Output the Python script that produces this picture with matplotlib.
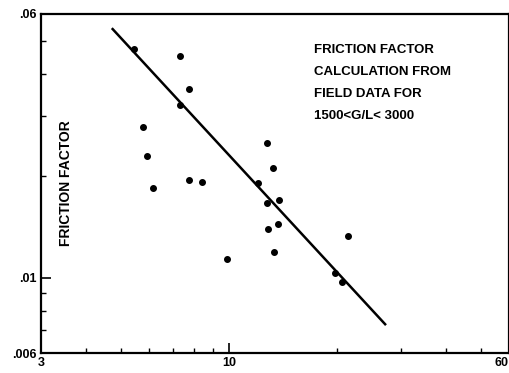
import matplotlib
matplotlib.use("Agg")
import matplotlib.pyplot as plt
from matplotlib.ticker import FixedLocator, NullFormatter

# Field data points (x, friction factor)
data_x = [5.44, 7.30, 7.74, 7.30, 5.76, 5.91, 6.14, 7.74, 8.41, 9.87,
          12.03, 12.75, 13.25, 12.75, 13.76, 12.83, 13.67, 13.33, 21.4, 19.7, 20.6]
data_y = [0.0473, 0.0451, 0.0361, 0.0323, 0.0279, 0.0229, 0.0184, 0.0194, 0.0192, 0.0114,
          0.0190, 0.0250, 0.0211, 0.0166, 0.0170, 0.0139, 0.0144, 0.0119, 0.0133, 0.0103, 0.0097]

# Fitted line end points
fit_x = [4.72, 27.3]
fit_y = [0.0545, 0.00725]

x_major = [3, 10, 60]
x_major_labels = ["3", "10", "60"]
x_minor = [4, 5, 6, 7, 8, 9, 20, 30, 40, 50]
y_major = [0.006, 0.01, 0.06]
y_major_labels = [".006", ".01", ".06"]
y_minor = [0.007, 0.008, 0.009, 0.02, 0.03, 0.04, 0.05]

note = "FRICTION FACTOR\nCALCULATION FROM\nFIELD DATA FOR\n1500<G/L< 3000"

plt.rcParams["font.family"] = ["Liberation Sans", "DejaVu Sans"]

fig = plt.figure(figsize=(5.10, 3.73), dpi=100)
ax = fig.add_axes([41/510, 20/373, 468/510, 339/373])
ax.set_xscale("log")
ax.set_yscale("log")
ax.set_xlim(3, 60)
ax.set_ylim(0.006, 0.06)

ax.plot(fit_x, fit_y, color="black", lw=1.8, solid_capstyle="butt")
ax.plot(data_x, data_y, "o", color="black", ms=4)

ax.xaxis.set_major_locator(FixedLocator(x_major))
ax.set_xticklabels(x_major_labels, fontsize=9, fontweight="bold")
ax.get_xticklabels()[-1].set_horizontalalignment("right")
ax.xaxis.set_minor_locator(FixedLocator(x_minor))
ax.xaxis.set_minor_formatter(NullFormatter())
ax.yaxis.set_major_locator(FixedLocator(y_major))
ax.set_yticklabels(y_major_labels, fontsize=9, fontweight="bold")
ax.yaxis.set_minor_locator(FixedLocator(y_minor))
ax.yaxis.set_minor_formatter(NullFormatter())

ax.tick_params(which="major", direction="in", length=7, width=1.2, pad=3)
ax.tick_params(which="minor", direction="in", length=3.5, width=1.0)
ax.tick_params(top=False, right=False, which="both")

for s in ax.spines.values():
    s.set_linewidth(1.6)

ax.text(0.053, 0.5, "FRICTION FACTOR", transform=ax.transAxes, rotation=90,
        fontsize=10, fontweight="bold", ha="center", va="center")
ax.text(0.583, 0.912, note, transform=ax.transAxes, fontsize=9.5,
        fontweight="bold", ha="left", va="top", linespacing=2.1)

fig.savefig("out.png", dpi=100)
